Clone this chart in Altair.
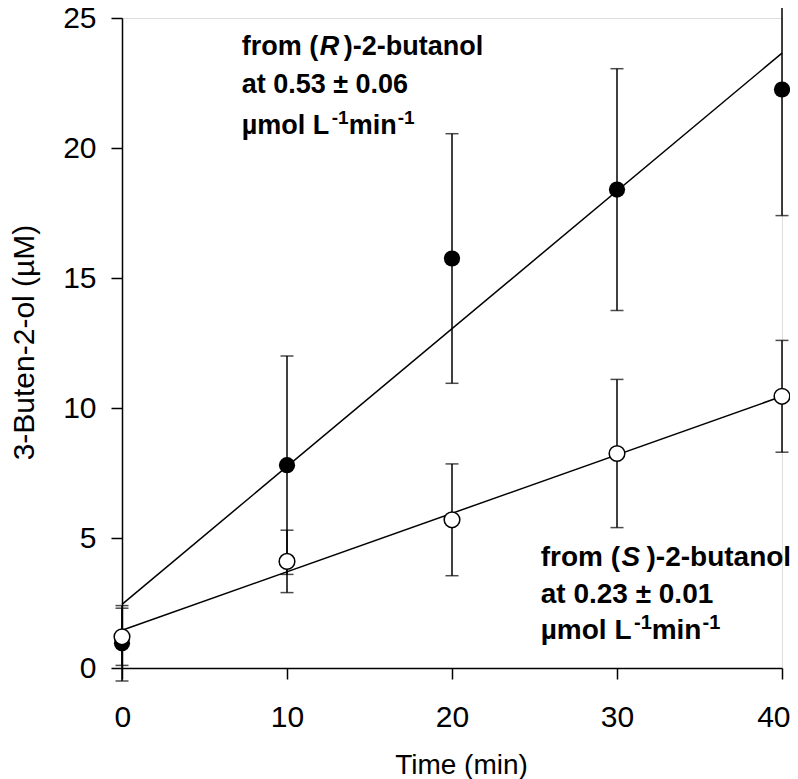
import altair as alt
import pandas as pd

# ---- data ----
time = [0, 10, 20, 30, 40]
r_mean = [0.95, 7.8, 15.75, 18.4, 22.25]
r_err = [1.45, 4.2, 4.8, 4.65, 4.85]
s_mean = [1.2, 4.1, 5.7, 8.25, 10.45]
s_err = [1.1, 1.2, 2.15, 2.85, 2.15]

fit_time = [0, 40]
r_fit = [2.45, 23.65]
s_fit = [1.45, 10.45]

x_ticks = [0, 10, 20, 30, 40]
y_ticks = [0, 5, 10, 15, 20, 25]

FONT = "Liberation Sans"

rows = []
for name, m, e in (("R", r_mean, r_err), ("S", s_mean, s_err)):
    for t, mv, ev in zip(time, m, e):
        rows.append({"series": name, "time": t, "mean": mv, "lo": mv - ev, "hi": mv + ev})
df = pd.DataFrame(rows)

caps = pd.concat([
    df[["series", "time"]].assign(v=df["lo"]),
    df[["series", "time"]].assign(v=df["hi"]),
])

fit = pd.DataFrame({
    "series": ["R"] * len(fit_time) + ["S"] * len(fit_time),
    "time": fit_time + fit_time,
    "value": r_fit + s_fit,
})

xscale = alt.Scale(domain=[0, 40], nice=False, zero=False)
yscale = alt.Scale(domain=[0, 25], nice=False, zero=False)

xaxis = alt.Axis(
    values=x_ticks, title="Time (min)", grid=False,
    labelFont=FONT, labelFontSize=30, labelColor="black",
    labelBaseline="alphabetic", labelPadding=47,
    labelFlush=True, labelFlushOffset=8,
    titleFont=FONT, titleFontSize=28, titleFontWeight="normal", titleColor="black",
    titleBaseline="alphabetic", titleX=339, titleY=105,
    tickSize=11, tickWidth=1.5, tickColor="black",
    domainColor="black", domainWidth=1.5,
)
yaxis = alt.Axis(
    values=y_ticks, title="3-Buten-2-ol (µM)", grid=False,
    labelFont=FONT, labelFontSize=30, labelColor="black", labelPadding=15,
    titleFont=FONT, titleFontSize=30, titleFontWeight="normal", titleColor="black",
    titleAngle=270, titleBaseline="alphabetic", titleAlign="center",
    titleX=-89, titleY=324,
    tickSize=11, tickWidth=1.5, tickColor="black",
    domainColor="black", domainWidth=1.5,
)

base = alt.Chart(df)

bars = base.mark_rule(color="black", strokeWidth=1.5).encode(
    x=alt.X("time:Q", scale=xscale, axis=xaxis),
    y=alt.Y("lo:Q", scale=yscale, axis=yaxis),
    y2="hi:Q",
)

cap_marks = alt.Chart(caps).mark_tick(
    orient="horizontal", color="black", size=13, thickness=1.5
).encode(
    x=alt.X("time:Q", scale=xscale),
    y=alt.Y("v:Q", scale=yscale),
)

lines = alt.Chart(fit).mark_line(color="black", strokeWidth=1.5).encode(
    x=alt.X("time:Q", scale=xscale),
    y=alt.Y("value:Q", scale=yscale),
    detail="series:N",
)

pts_r = alt.Chart(df[df.series == "R"]).mark_point(
    shape="circle", filled=True, color="black", size=263, opacity=1
).encode(
    x=alt.X("time:Q", scale=xscale),
    y=alt.Y("mean:Q", scale=yscale),
)

pts_s = alt.Chart(df[df.series == "S"]).mark_point(
    shape="circle", filled=True, fill="white", stroke="black", strokeWidth=1.5,
    size=245, opacity=1
).encode(
    x=alt.X("time:Q", scale=xscale),
    y=alt.Y("mean:Q", scale=yscale),
)

dummy = pd.DataFrame({"k": [0]})


def txt(s, x, y, size, style="normal"):
    return alt.Chart(dummy).mark_text(
        text=s, align="left", baseline="alphabetic", font=FONT,
        fontSize=size, fontWeight="bold", fontStyle=style, color="black",
    ).encode(x=alt.value(x), y=alt.value(y))


def annotation(x0, y1, y2, y3, letter, rate, fs):
    k = fs / 27.0
    sup = round(19 * k)
    return [
        txt("from (", x0, y1, fs),
        txt(letter, x0 + 78 * k, y1, fs, style="italic"),
        txt(")-2-butanol", x0 + 102 * k, y1, fs),
        txt("at " + rate, x0, y2, fs),
        txt("µmol L", x0, y3, fs),
        txt("-1", x0 + 90 * k, y3 - 10 * k, sup),
        txt("min", x0 + 107 * k, y3, fs),
        txt("-1", x0 + 156 * k, y3 - 10 * k, sup),
    ]


# annotation positions are in plot pixels (plot origin at page x=122, y=18)
texts = annotation(119.7, 37, 75, 116, "R", "0.53 ± 0.06", 27) + \
    annotation(418.7, 548, 585, 621, "S", "0.23 ± 0.01", 28)

chart = alt.layer(bars, cap_marks, lines, pts_r, pts_s, *texts).properties(
    width=660, height=650,
    autosize=alt.AutoSizeParams(type="none"),
    padding={"left": 114, "top": 10, "right": 8, "bottom": 111},
).configure_view(stroke=None).configure(background="white")

chart.save("out.html", embed_options={"renderer": "svg", "actions": False})
